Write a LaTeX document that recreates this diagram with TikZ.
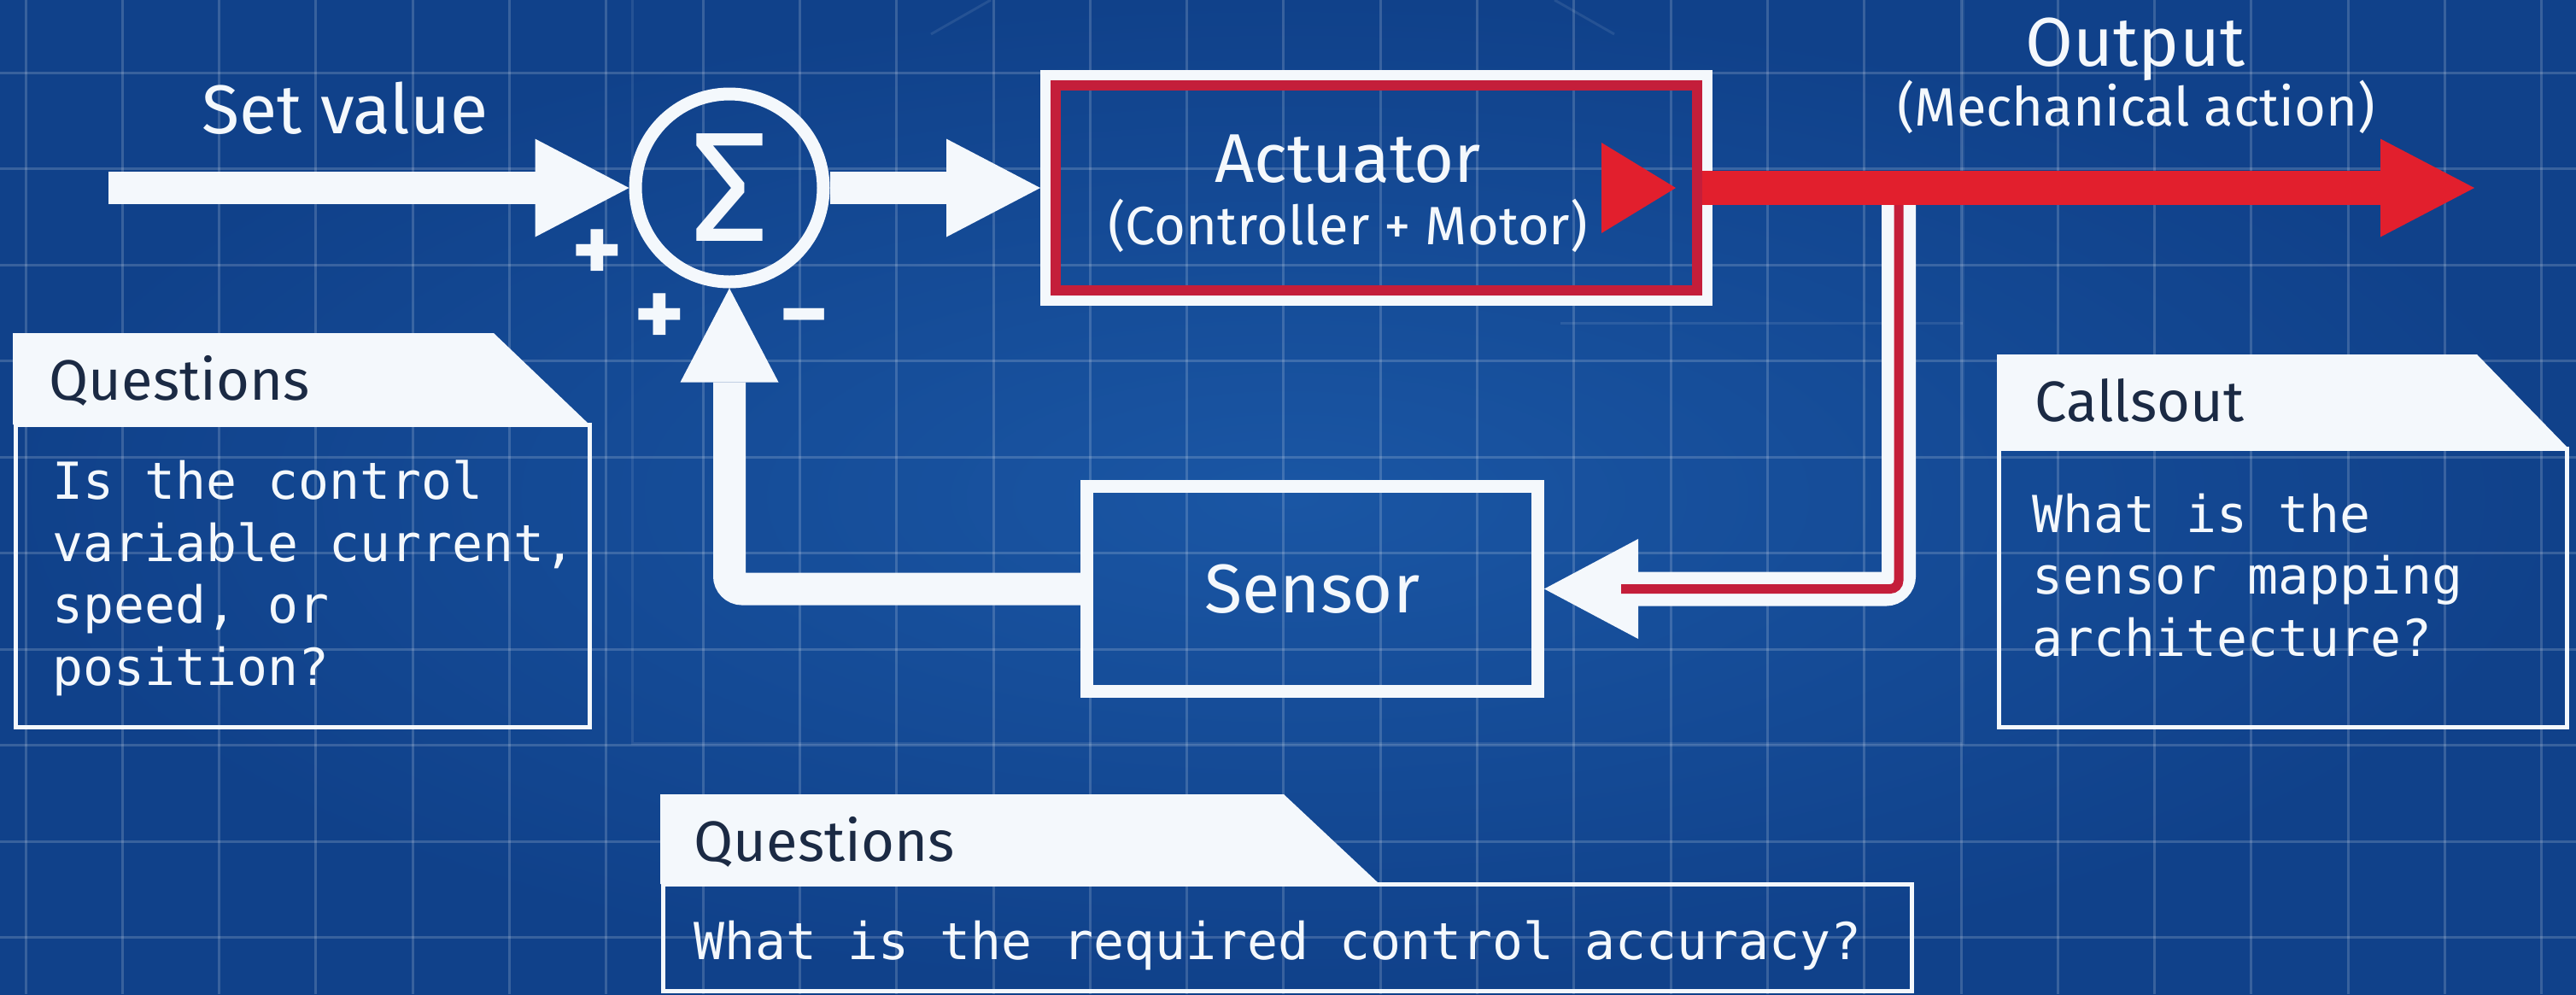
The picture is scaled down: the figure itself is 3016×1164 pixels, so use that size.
\documentclass[tikz,border=0pt]{standalone}
\usepackage{fontspec}
\setmainfont{Fira Sans}
\newfontfamily\codefont{DejaVu Sans Mono}
\usetikzlibrary{arrows.meta,calc}

\definecolor{bpcenter}{HTML}{1A56A4}
\definecolor{bpedge}{HTML}{10418A}
\definecolor{ink}{HTML}{F4F8FC}
\definecolor{sigred}{HTML}{E21F2D}
\definecolor{boxred}{HTML}{C41E3A}
\definecolor{navy}{HTML}{1B2A44}

\begin{document}
\begin{tikzpicture}[x=0.1mm, y=-0.1mm,
  gridline/.style={draw=white, draw opacity=0.17, line width=0.3mm},
  ghost/.style={draw=white, draw opacity=0.09, line width=0.3mm},
  flow/.style={draw=ink, line width=3.8mm,
    -{Triangle[length=11mm,width=11.5mm,line width=0pt]}},
  sumnode/.style={circle, draw=ink, line width=1.5mm, minimum size=22mm,
    inner sep=0pt, text=ink},
  actbox/.style={rectangle, draw=ink, line width=1.2mm, minimum width=77.5mm,
    minimum height=26.4mm, inner sep=0pt},
  sensbox/.style={rectangle, draw=ink, line width=1.5mm, minimum width=52.8mm,
    minimum height=24mm, inner sep=0pt, text=ink,
    font=\fontsize{23}{27}\selectfont},
  lbl/.style={text=ink, inner sep=0pt, font=\fontsize{23}{27}\selectfont},
  sublbl/.style={text=ink, inner sep=0pt, font=\fontsize{18}{22}\selectfont},
  sign/.style={text=ink, inner sep=0pt, font=\bfseries\fontsize{32}{32}\selectfont},
  head/.style={text=navy, inner sep=0pt, font=\fontsize{19}{22}\selectfont},
  code/.style={text=ink, inner sep=0pt, align=left,
    font=\codefont\fontsize{17}{20.6}\selectfont},
  panel/.style={draw=ink, line width=0.5mm}
]
\useasboundingbox (0,0) rectangle (3016,1164);

% blueprint paper
\shade[inner color=bpcenter, outer color=bpedge] (0,0) rectangle (3016,1164);
\foreach \gx in {0,...,26}
  \draw[gridline] ({30+113.3*\gx},0) -- ({30+113.3*\gx},1164);
\foreach \gy in {1,...,10}
  \draw[gridline] (0,{-27.5+112.5*\gy}) -- (3016,{-27.5+112.5*\gy});

% faint construction lines
\draw[ghost] (740,0) -- (740,870) -- (2298,870) -- (2298,0);
\draw[ghost] (1827,378) -- (2298,378);
\draw[ghost] (1090,40) -- (1160,0);
\draw[ghost] (1820,0) -- (1890,40);

% blocks
\node[sumnode] (sum) at (854,220) {\fontsize{52}{52}\selectfont Σ};
\node[actbox] (act) at (1611.5,220) {};
\draw[boxred, line width=1.2mm]
  ($(act.north west)+(18,18)$) rectangle ($(act.south east)+(-18,-18)$);
\node[sensbox] (sens) at (1536.5,689.5) {Sensor};

\coordinate (in) at (127,220);
\coordinate (out) at (2897,220);
\coordinate (branch) at (2223,220);

% forward path
\draw[flow] (in) -- (sum.west);
\draw[flow] (sum.east) -- (act.west);

% measured output back to the sensor
\draw[ink, line width=4mm, rounded corners=1.5mm,
  -{Triangle[length=11mm,width=11.7mm,line width=0pt]}] (branch) |- (sens.east);
\draw[boxred, line width=1.1mm, rounded corners=1mm]
  (branch) |- ($(sens.east)+(90,0)$);

% output
\fill[sigred] ($(act.east)+(-43,0)$) -- ($(act.east)+(-130,-53)$)
  -- ($(act.east)+(-130,53)$) -- cycle;
\draw[sigred, line width=4mm,
  -{Triangle[length=11mm,width=11.5mm,line width=0pt]}]
  ($(act.east)+(-12,0)$) -- (out);

% feedback into the summing point
\draw[flow, rounded corners=1.5mm] (sens.west) -| (sum.south);

% labels
\node[lbl, anchor=base] (setlbl) at (404,156) {Set value};
\node[lbl, anchor=base] (actlbl) at (1578,213) {Actuator};
\node[sublbl, anchor=base] (actsub) at (1578,286) {(Controller + Motor)};
\node[lbl, anchor=base] (outlbl) at (2500,77) {Output};
\node[sublbl, anchor=base] (outsub) at (2501,147) {(Mechanical action)};
\node[sign] (plusA) at (699,300) {+};
\node[sign] (plusB) at (772,375) {+};
\node[sign] (minusC) at (942,383) {−};

% question panels (the base of a multi-line text is its last line)
\fill[ink] (15,390) -- (578,390) -- (690,497) -- (15,497) -- cycle;
\draw[panel] (18,497) rectangle (690,851);
\node[head, anchor=base west] (q1head) at (57,468) {Questions};
\node[code, anchor=base west] (q1body) at (61,802)
  {Is the control\\variable current,\\speed, or\\position?};

\fill[ink] (2338,415) -- (2900,415) -- (3007,525) -- (2338,525) -- cycle;
\draw[panel] (2340,525) rectangle (3005,851);
\node[head, anchor=base west] (c1head) at (2382,493) {Callsout};
\node[code, anchor=base west] (c1body) at (2379,768)
  {What is the\\sensor mapping\\architecture?};

\fill[ink] (773,930) -- (1503,930) -- (1615,1035) -- (773,1035) -- cycle;
\draw[panel] (776,1035) rectangle (2238,1160);
\node[head, anchor=base west] (q2head) at (812,1008) {Questions};
\node[code, anchor=base west] (q2body) at (812,1123)
  {What is the required control accuracy?};
\end{tikzpicture}
\end{document}
